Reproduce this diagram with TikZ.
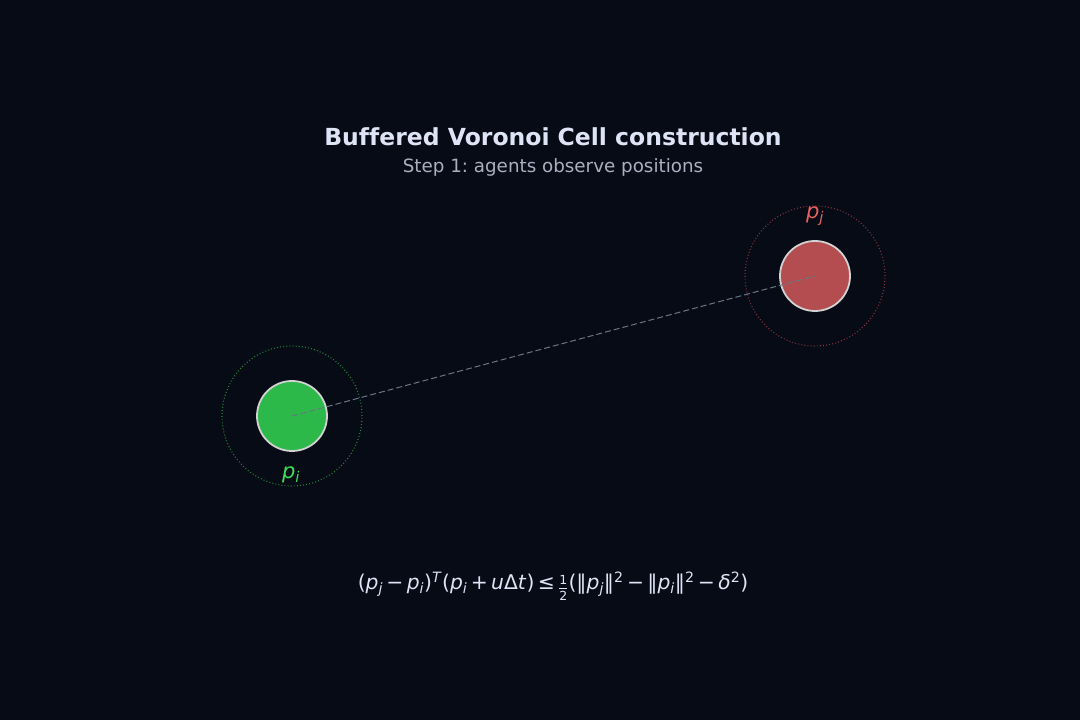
\documentclass[tikz,border=0pt]{standalone}
\usepackage{fontspec}
\setmainfont{DejaVu Sans}[Ligatures=NoCommon]
\frenchspacing
\usetikzlibrary{calc}
\definecolor{bg}{HTML}{070B16}
\definecolor{titlec}{HTML}{DCE4F5}
\definecolor{subc}{HTML}{A8B0C0}
\definecolor{greenf}{HTML}{2DB84A}
\definecolor{redf}{HTML}{B34D4F}
\definecolor{rimc}{HTML}{D2D2D2}
\definecolor{greeno}{HTML}{238A35}
\definecolor{redo}{HTML}{8A3440}
\definecolor{greenl}{HTML}{3EE05A}
\definecolor{redl}{HTML}{E86060}
\definecolor{linkc}{HTML}{6A7585}
\newcommand\pvar[1]{\textit{p}\textsubscript{\textit{#1}}}
\tikzset{
  agent/.style={circle, minimum size=70pt, inner sep=0pt, line width=1.8pt, draw=rimc},
  buffer/.style={circle, minimum size=140pt, inner sep=0pt, line width=1.1pt, dash pattern=on 0.9pt off 2.2pt},
  lbl/.style={font=\fontsize{21}{24}\selectfont},
  link/.style={draw=linkc, line width=1pt, dash pattern=on 6pt off 3pt},
}
\begin{document}
\begin{tikzpicture}[x=1pt,y=1pt]
\fill[bg] (0,0) rectangle (1080,720);
\useasboundingbox (0,0) rectangle (1080,720);
\node[titlec, font=\bfseries\fontsize{23.5}{27}\selectfont] (title) at (553,583) {Buffered Voronoi Cell construction};
\node[subc, font=\fontsize{18.3}{22}\selectfont] (sub) at (553,553) {Step 1: agents observe positions};
\node[buffer, draw=greeno] (bi) at (292,304) {};
\node[buffer, draw=redo] (bj) at (815,444) {};
\node[agent, fill=greenf] (pi) at (292,304) {};
\node[agent, fill=redf] (pj) at (815,444) {};
\draw[link] (pi.center) -- (pj.center);
\node[lbl, greenl] (li) at (291,245) {\pvar{i}};
\node[lbl, redl] (lj) at (815,504) {\pvar{j}};
\node[titlec, font=\fontsize{20.3}{24}\selectfont] (eq) at (553,134) {(\pvar{j}\,−\,\pvar{i})\textsuperscript{\textit{T}}(\pvar{i}\,+\,\textit{u}Δ\textit{t})\,≤\,\raisebox{-0.3ex}{\ensuremath{\frac{\mbox{\fontsize{12.5}{13}\selectfont 1}}{\mbox{\fontsize{12.5}{13}\selectfont 2}}}}(‖\pvar{j}‖\textsuperscript{2}\,−\,‖\pvar{i}‖\textsuperscript{2}\,−\,\textit{δ}\textsuperscript{2})};
\end{tikzpicture}
\end{document}
